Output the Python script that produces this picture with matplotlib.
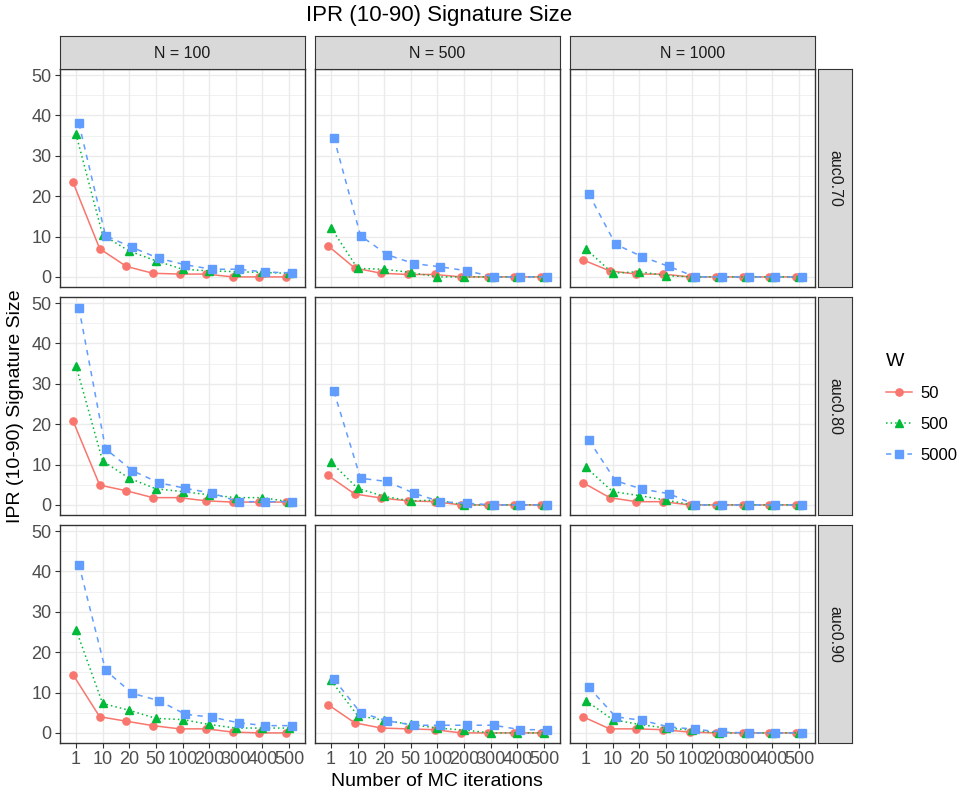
import numpy as np
import matplotlib
matplotlib.use("Agg")
import matplotlib.pyplot as plt
from matplotlib.lines import Line2D

plt.rcParams["font.family"] = ["Liberation Sans", "DejaVu Sans"]

ITERS = ["1", "10", "20", "50", "100", "200", "300", "400", "500"]
N_LABELS = ["N = 100", "N = 500", "N = 1000"]
AUC_LABELS = ["auc0.70", "auc0.80", "auc0.90"]
W_LABELS = ["50", "500", "5000"]

# each list: [N=100, N=500, N=1000]
auc070_w50 = [[23.4, 7.0, 2.6, 0.9, 0.7, 0.7, 0, 0, 0],
              [7.7, 2.2, 0.9, 0.6, 0.6, 0, 0, 0, 0],
              [4.2, 1.5, 0.7, 0.7, 0, 0, 0, 0, 0]]
auc070_w500 = [[35.4, 10.4, 6.4, 4.0, 1.9, 1.5, 1.3, 1.1, 0.9],
               [12.2, 2.1, 1.9, 1.1, 0, 0, 0, 0, 0],
               [6.9, 0.9, 1.3, 0.3, 0, 0, 0, 0, 0]]
auc070_w5000 = [[38.0, 10.2, 7.3, 4.6, 3.0, 1.9, 1.9, 1.2, 1.0],
                [34.5, 10.2, 5.5, 3.3, 2.5, 1.5, 0, 0, 0],
                [20.5, 8.1, 5.0, 2.6, 0, 0, 0, 0, 0]]

auc080_w50 = [[20.8, 4.9, 3.5, 1.8, 1.8, 1.0, 0.7, 0.7, 0.7],
              [7.3, 2.7, 1.7, 1.0, 0.8, 0, 0, 0, 0],
              [5.5, 1.8, 0.8, 0.8, 0, 0, 0, 0, 0]]
auc080_w500 = [[34.5, 10.9, 6.6, 4.0, 3.3, 2.5, 1.8, 1.8, 0.8],
               [10.6, 4.1, 2.1, 1.0, 1.2, 0, 0, 0, 0],
               [9.3, 3.3, 2.3, 1.2, 0, 0, 0, 0, 0]]
auc080_w5000 = [[48.8, 13.9, 8.5, 5.5, 4.1, 2.9, 0.8, 0.8, 0.8],
                [28.1, 6.6, 5.8, 2.9, 0.8, 0.4, 0, 0, 0],
                [16.0, 6.0, 3.9, 2.8, 0, 0, 0, 0, 0]]

auc090_w50 = [[14.4, 4.0, 2.9, 1.8, 1.0, 1.0, 0.2, 0, 0],
              [7.0, 2.5, 1.2, 1.0, 0.8, 0, 0, 0, 0],
              [4.0, 1.0, 1.0, 0.8, 0.2, 0, 0, 0, 0]]
auc090_w500 = [[25.6, 7.3, 5.6, 3.6, 3.3, 2.1, 1.2, 1.2, 1.2],
               [13.0, 4.3, 3.1, 2.1, 1.2, 0.7, 0, 0, 0],
               [8.0, 3.3, 2.1, 1.2, 0.7, 0, 0, 0, 0]]
auc090_w5000 = [[41.7, 15.5, 9.8, 8.0, 4.6, 3.9, 2.5, 1.8, 1.8],
                [13.3, 5.0, 3.0, 1.9, 1.9, 1.9, 1.9, 0.8, 0.8],
                [11.3, 4.0, 3.1, 1.5, 0.9, 0.2, 0, 0, 0]]

DATA = [[auc070_w50, auc070_w500, auc070_w5000],
        [auc080_w50, auc080_w500, auc080_w5000],
        [auc090_w50, auc090_w500, auc090_w5000]]

COLORS = ["#F8766D", "#00BA38", "#619CFF"]
MARKERS = ["o", "^", "s"]
DASHES = [None, (1, 2.0), (3.5, 3.5)]
OFFSETS = [-0.11, 0.0, 0.11]

W, H = 960, 796
fig = plt.figure(figsize=(W / 100, H / 100), dpi=100)


def fx(px):
    return px / W


def fy(py):
    return 1 - py / H


col_x = [60, 315, 570]
col_w = 245
row_y = [69, 297, 525]
row_h = 218
BORDER = "#333333"
STRIP = "#D9D9D9"

x = np.arange(1, len(ITERS) + 1)

for r in range(3):
    for c in range(3):
        ax = fig.add_axes([fx(col_x[c]), fy(row_y[r] + row_h), fx(col_w), row_h / H])
        for k in range(3):
            vals = DATA[r][k][c]
            ln, = ax.plot(x + OFFSETS[k], vals, color=COLORS[k], marker=MARKERS[k],
                          markersize=5.2, linewidth=1.1, zorder=3 + k)
            if DASHES[k] is not None:
                ln.set_dashes(DASHES[k])
        ax.set_xlim(0.4, 9.6)
        ax.set_ylim(-2.5, 51.5)
        ax.set_yticks([0, 10, 20, 30, 40, 50])
        ax.set_yticks([5, 15, 25, 35, 45], minor=True)
        ax.set_xticks(x)
        ax.grid(which="major", color="#EBEBEB", linewidth=1.0)
        ax.grid(which="minor", axis="y", color="#EBEBEB", linewidth=0.5)
        ax.set_axisbelow(True)
        for s in ax.spines.values():
            s.set_color(BORDER)
            s.set_linewidth(1.0)
        ax.tick_params(which="major", length=3.5, color=BORDER, labelcolor="#4D4D4D",
                       labelsize=13, width=0.8, pad=2.5)
        ax.tick_params(which="minor", length=0)
        if c == 0:
            ax.set_yticklabels([str(v) for v in [0, 10, 20, 30, 40, 50]])
        else:
            ax.tick_params(axis="y", which="major", length=0, labelleft=False)
        if r == 2:
            ax.set_xticklabels(ITERS)
        else:
            ax.tick_params(axis="x", length=0, labelbottom=False)

# column strips
for c in range(3):
    sax = fig.add_axes([fx(col_x[c]), fy(69), fx(col_w), 33 / H])
    sax.set_facecolor(STRIP)
    sax.set_xticks([])
    sax.set_yticks([])
    for s in sax.spines.values():
        s.set_color(BORDER)
    sax.text(0.5, 0.48, N_LABELS[c], ha="center", va="center", fontsize=11.5,
             color="#1A1A1A", transform=sax.transAxes)

# row strips
for r in range(3):
    sax = fig.add_axes([fx(818), fy(row_y[r] + row_h), fx(34), row_h / H])
    sax.set_facecolor(STRIP)
    sax.set_xticks([])
    sax.set_yticks([])
    for s in sax.spines.values():
        s.set_color(BORDER)
    sax.text(0.5, 0.5, AUC_LABELS[r], ha="center", va="center", fontsize=11.5,
             rotation=-90, color="#1A1A1A", transform=sax.transAxes)

fig.text(fx(439), fy(16), "IPR (10-90) Signature Size", ha="center", va="center",
         fontsize=16)
fig.text(fx(437), fy(782), "Number of MC iterations", ha="center", va="center",
         fontsize=14)
fig.text(fx(16), fy(406), "IPR (10-90) Signature Size", ha="center", va="center",
         fontsize=14, rotation=90)

handles = []
for k in range(3):
    h = Line2D([], [], color=COLORS[k], marker=MARKERS[k], markersize=5.2, linewidth=1.1)
    if DASHES[k] is not None:
        h.set_dashes(DASHES[k])
    handles.append(h)
leg = fig.legend(handles, W_LABELS, title="W", loc="upper left",
                 bbox_to_anchor=(fx(871), fy(338)), frameon=False, fontsize=12,
                 title_fontsize=14, handlelength=1.55, labelspacing=0.95,
                 handletextpad=0.5)
leg._legend_box.align = "left"

fig.savefig("out.png", dpi=100)
